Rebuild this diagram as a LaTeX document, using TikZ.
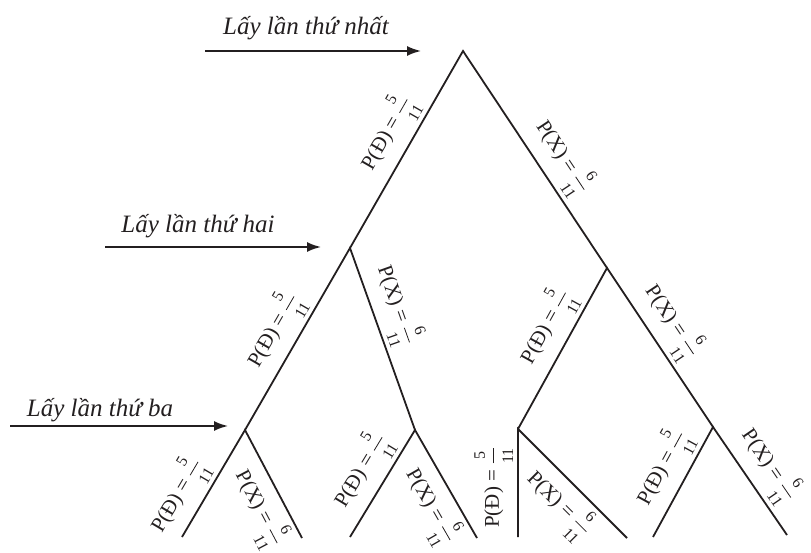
\documentclass[tikz,border=0pt]{standalone}
\usepackage{amsmath}
\usepackage{fontspec}
\setmainfont{Liberation Serif}
\usetikzlibrary{arrows.meta}
\definecolor{ink}{HTML}{231F20}
\newcommand{\pfr}[2]{$\genfrac{}{}{0.8pt}{0}{\text{\fontsize{16}{16}\selectfont #1}}{\text{\fontsize{16}{16}\selectfont #2}}$}
\tikzset{
  br/.style={draw=ink, line width=1.8pt},
  pl/.style={font=\fontsize{21}{21}\selectfont, text=ink, sloped, inner sep=4pt},
  lvl/.style={font=\itshape\fontsize{25}{25}\selectfont, text=ink, anchor=base, inner sep=0pt},
  ar/.style={-{Latex[length=14pt,width=10pt]}, ink, line width=1.8pt},
}

\begin{document}
\begin{tikzpicture}[x=1pt, y=-1pt]
    \useasboundingbox (0,0) rectangle (811,553);
    % tree points
    \coordinate (r) at (463,51);
    \coordinate (l) at (350,248);
    \coordinate (rt) at (607,268);
    \coordinate (ll) at (245,430);
    \coordinate (lr) at (415,430);
    \coordinate (rl) at (518,429);
    \coordinate (rr) at (713,427);
    \coordinate (ll1) at (182,537);
    \coordinate (ll2) at (302,538);
    \coordinate (lr1) at (350,537);
    \coordinate (lr2) at (477,538);
    \coordinate (rl1) at (518,537);
    \coordinate (rl2) at (627,538);
    \coordinate (rr1) at (653,537);
    \coordinate (rr2) at (787,535);
    % levels
    \node[lvl] (t1) at (306,35) {Lấy lần thứ nhất};
    \node[lvl] (t2) at (198,233) {Lấy lần thứ hai};
    \node[lvl] (t3) at (100,416) {Lấy lần thứ ba};
    \coordinate (a1) at (205,51);  \coordinate (b1) at (421,51);
    \coordinate (a2) at (105,247); \coordinate (b2) at (321,247);
    \coordinate (a3) at (10,426);  \coordinate (b3) at (228,426);
    \draw[ar] (a1) -- (b1);
    \draw[ar] (a2) -- (b2);
    \draw[ar] (a3) -- (b3);
    % branches
    \draw[br] (l) -- node[pl, above, pos=.52] {P(Đ) = \pfr{5}{11}} (r)
                  -- node[pl, above, pos=.55] {P(X) = \pfr{6}{11}} (rt);
    \draw[br] (ll) -- node[pl, above, pos=.48] {P(Đ) = \pfr{5}{11}} (l)
                   -- node[pl, above, pos=.36] {P(X) = \pfr{6}{11}} (lr);
    \draw[br] (rl) -- node[pl, above, pos=.56] {P(Đ) = \pfr{5}{11}} (rt)
                   -- node[pl, above, pos=.42] {P(X) = \pfr{6}{11}} (rr);
    \draw[br] (ll1) -- node[pl, above, pos=.27] {P(Đ) = \pfr{5}{11}} (ll)
                    -- node[pl, below, pos=.62] {P(X) = \pfr{6}{11}} (ll2);
    \draw[br] (lr1) -- node[pl, above, pos=.5] {P(Đ) = \pfr{5}{11}} (lr)
                    -- node[pl, below, pos=.59] {P(X) = \pfr{6}{11}} (lr2);
    \draw[br] (rl1) -- node[pl, above, pos=.46] {P(Đ) = \pfr{5}{11}} (rl)
                    -- node[pl, below, pos=.53] {P(X) = \pfr{6}{11}} (rl2);
    \draw[br] (rr1) -- node[pl, above, pos=.52] {P(Đ) = \pfr{5}{11}} (rr)
                    -- node[pl, above, pos=.48] {P(X) = \pfr{6}{11}} (rr2);
\end{tikzpicture}
\end{document}
